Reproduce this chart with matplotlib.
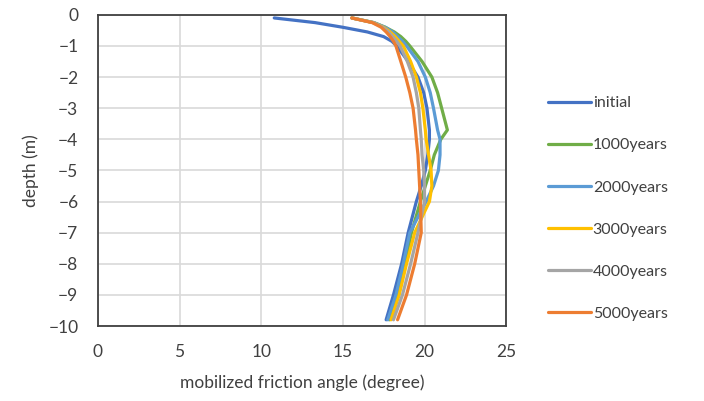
import matplotlib.pyplot as plt

plt.rcParams['font.family'] = ['Lato', 'DejaVu Sans']

# depth points (m) shared by all series
depth = [-0.1, -0.25, -0.4, -0.55, -0.7, -0.85, -1, -1.5, -2, -2.5, -3,
         -3.7, -4, -4.5, -5, -5.5, -6, -7, -8, -9, -9.8]

# mobilized friction angle (degree)
initial = [10.8, 13.3, 15.0, 16.5, 17.5, 18.0, 18.3, 19.0, 19.6, 19.95, 20.15,
           20.3, 20.3, 20.2, 20.05, 19.8, 19.5, 19.0, 18.6, 18.1, 17.65]
y1000 = [15.55, 16.9, 17.6, 18.15, 18.55, 18.85, 19.1, 19.85, 20.45, 20.8, 21.05,
         21.4, 21.0, 20.6, 20.35, 20.05, 19.75, 19.2, 18.8, 18.35, 17.85]
y2000 = [15.55, 16.9, 17.6, 18.05, 18.35, 18.65, 18.9, 19.6, 20.05, 20.35, 20.55,
         20.8, 20.95, 20.95, 20.85, 20.55, 20.1, 19.1, 18.7, 18.25, 17.75]
y3000 = [15.55, 16.85, 17.5, 17.9, 18.2, 18.45, 18.7, 19.15, 19.5, 19.75, 19.9,
         20.05, 20.1, 20.25, 20.4, 20.45, 20.3, 19.4, 18.9, 18.45, 17.95]
y4000 = [15.55, 16.85, 17.45, 17.8, 18.05, 18.3, 18.5, 18.95, 19.3, 19.5, 19.65,
         19.75, 19.8, 19.85, 19.95, 20.0, 20.0, 19.6, 19.15, 18.65, 18.1]
y5000 = [15.55, 16.8, 17.35, 17.65, 17.9, 18.1, 18.25, 18.55, 18.85, 19.1, 19.3,
         19.45, 19.5, 19.6, 19.65, 19.7, 19.75, 19.8, 19.4, 18.9, 18.35]

labels = ['initial', '1000years', '2000years', '3000years', '4000years', '5000years']
colors = ['#4472C4', '#70AD47', '#5B9BD5', '#FFC000', '#A5A5A5', '#ED7D31']
series = [initial, y1000, y2000, y3000, y4000, y5000]

fig = plt.figure(figsize=(7.04, 4.01), dpi=100)
ax = fig.add_axes([0.139, 0.187, 0.58, 0.776])

for vals, lab, col in zip(series, labels, colors):
    ax.plot(vals, depth, color=col, lw=2.3, label=lab,
            solid_joinstyle='round', solid_capstyle='round')

ax.set_xlim(0, 25)
ax.set_ylim(-10, 0)
ax.set_xticks(range(0, 26, 5))
ax.set_yticks(range(-10, 1))
ax.grid(True, color='#d9d9d9', lw=1.2)
ax.set_axisbelow(True)
ax.tick_params(length=0, labelsize=12.5, colors='#404040')
ax.tick_params(axis='x', pad=13)
ax.tick_params(axis='y', pad=14)
for s in ax.spines.values():
    s.set_color('#404040')
    s.set_linewidth(1.3)

ax.set_xlabel('mobilized friction angle (degree)', fontsize=12.5, color='#404040', labelpad=10)
ax.set_ylabel('depth (m)', fontsize=12.5, color='#404040', labelpad=7)

fig.legend(loc='center left', bbox_to_anchor=(0.758, 0.48), frameon=False,
           fontsize=11.5, handlelength=2.7, handletextpad=0.1, labelspacing=1.75,
           labelcolor='#404040')

fig.savefig('out.png', dpi=100)
